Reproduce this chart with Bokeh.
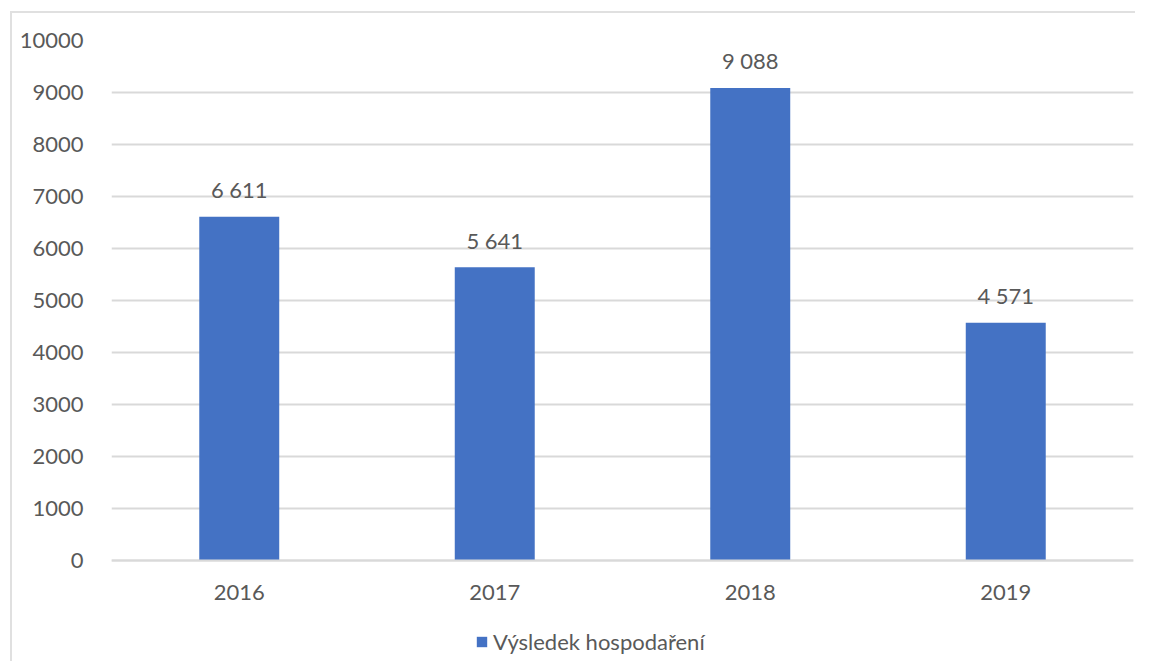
from bokeh.plotting import figure
from bokeh.models import ColumnDataSource, Legend, LegendItem, FixedTicker, Range1d
from bokeh.core.properties import value
from bokeh.embed import file_html
from bokeh.resources import INLINE

years = ["2016", "2017", "2018", "2019"]
values = [6611, 5641, 9088, 4571]
labels = ["6 611", "5 641", "9 088", "4 571"]
y_ticks = [0, 1000, 2000, 3000, 4000, 5000, 6000, 7000, 8000, 9000, 10000]
series_name = "Výsledek hospodaření"

FONT = "Lato"
FS = "22px"
TXT = "#595959"
GRID = "#d9d9d9"
BAR = "#4472C4"

# layout geometry (pixels): frame spans from value 10000 down past 0 to leave room for axis + legend
H = 650
TOP = 27
PLOT_PX = 520          # pixels between 0 and 10000
BELOW_PX = H - TOP - PLOT_PX
y_max = 10000
y_min = -BELOW_PX / PLOT_PX * y_max

src = ColumnDataSource(dict(x=years, top=values, label=labels))

p = figure(x_range=years, y_range=Range1d(y_min, y_max), width=1125, height=H,
           output_backend="svg", toolbar_location=None,
           min_border_left=99, min_border_right=4, min_border_top=TOP, min_border_bottom=0)
p.margin = (11, 0, 0, 10)
p.styles = {"border-left": "2px solid #e0e0e0", "border-top": "2px solid #e0e0e0"}
p.outline_line_color = None
p.background_fill_color = "white"
p.border_fill_color = "white"

r = p.vbar(x="x", top="top", width=0.313, source=src, fill_color=BAR, line_color=None)
p.text(x="x", y="top", text="label", source=src, text_align="center", text_baseline="alphabetic",
       y_offset=-27, text_font=value(FONT), text_font_size=FS, text_color=TXT)

p.yaxis.ticker = FixedTicker(ticks=y_ticks)
p.yaxis.axis_line_color = None
p.yaxis.major_tick_line_color = None
p.yaxis.minor_tick_line_color = None
p.yaxis.major_label_standoff = 22
p.yaxis.major_label_text_font = FONT
p.yaxis.major_label_text_font_size = FS
p.yaxis.major_label_text_color = TXT

p.xaxis.fixed_location = 0
p.xaxis.axis_line_color = GRID
p.xaxis.axis_line_width = 2
p.xaxis.major_tick_line_color = None
p.xaxis.major_label_standoff = 18
p.xaxis.major_label_text_font = FONT
p.xaxis.major_label_text_font_size = FS
p.xaxis.major_label_text_color = TXT

p.xgrid.grid_line_color = None
p.ygrid.grid_line_color = GRID
p.ygrid.grid_line_width = 2

legend = Legend(items=[LegendItem(label=series_name, renderers=[r])],
                location=(364, 8), orientation="horizontal",
                glyph_width=13, glyph_height=13, label_standoff=5, padding=0, margin=0,
                border_line_color=None, background_fill_alpha=0,
                label_text_font=FONT, label_text_font_size=FS, label_text_color=TXT)
p.add_layout(legend, "center")

open("out.html", "w").write(file_html(p, INLINE))
